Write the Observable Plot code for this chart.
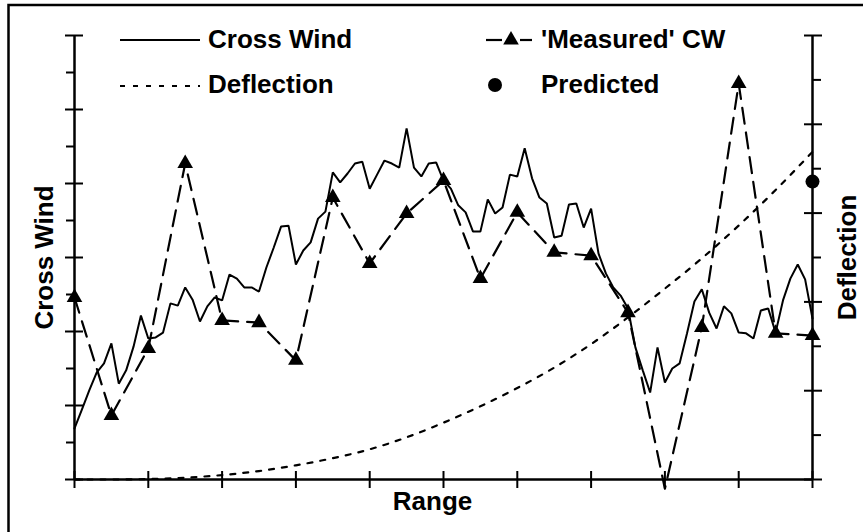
<!DOCTYPE html>
<html>
<head>
<meta charset="utf-8">
<script src="https://cdn.jsdelivr.net/npm/d3@7"></script>
<script src="https://cdn.jsdelivr.net/npm/@observablehq/plot@0.6"></script>
<style>
  body { margin: 0; background: #fff; }
  #chart { width: 863px; height: 532px; overflow: hidden; }
</style>
</head>
<body>
<div id="chart"></div>
<script>
// Cross wind sampled every 0.1 range unit (cross-wind axis units)
const crossWindStep = 0.1;
const crossWind = [
  1.38, 1.89, 2.41, 2.89, 3.14, 3.68, 2.59, 2.95, 3.59, 4.43,
  3.81, 3.84, 3.97, 4.76, 4.70, 5.19, 4.86, 4.27, 4.68, 4.92,
  4.84, 5.54, 5.43, 5.19, 5.19, 5.08, 5.73, 6.27, 6.84, 6.86,
  5.81, 6.19, 6.41, 7.05, 7.24, 8.30, 8.03, 8.27, 8.54, 8.59,
  7.86, 8.24, 8.62, 8.54, 8.43, 9.49, 8.43, 8.19, 8.54, 8.57,
  8.08, 7.86, 7.41, 7.22, 6.70, 6.70, 7.57, 7.19, 7.35, 8.24,
  8.19, 8.95, 8.14, 7.62, 7.46, 6.54, 6.59, 7.43, 7.46, 6.81,
  7.32, 6.11, 5.57, 5.19, 4.97, 4.62, 3.57, 2.95, 2.35, 3.57,
  2.62, 3.00, 3.14, 3.95, 4.81, 5.14, 4.51, 4.08, 4.68, 4.49,
  3.97, 3.95, 3.81, 4.57, 4.62, 3.97, 4.84, 5.43, 5.81, 5.41,
  4.35
];

// 'Measured' cross wind, one reading every 0.5 range unit
const measuredRange = [0, 0.5, 1, 1.5, 2, 2.5, 3, 3.5, 4, 4.5, 5, 5.5, 6, 6.5, 7, 7.5, 8, 8.5, 9, 9.5, 10];
const measuredCW = [4.92, 1.73, 3.54, 8.54, 4.30, 4.24, 3.22, 7.62, 5.84, 7.19, 8.08, 5.43, 7.22, 6.14, 6.05, 4.51, -0.25, 4.11, 10.70, 3.95, 3.89];

// Deflection (right axis units)
const deflectionRange = [0, 0.5, 1, 1.5, 2, 2.5, 3, 3.5, 4, 4.5, 5, 5.5, 6, 6.5, 7, 7.5, 8, 8.5, 9, 9.5, 10];
const deflection = [0, 0, 0.01, 0.04, 0.1, 0.19, 0.32, 0.48, 0.68, 0.95, 1.28, 1.65, 2.06, 2.52, 3.05, 3.65, 4.3, 4.98, 5.72, 6.52, 7.38];

// Predicted deflection at the end of the range
const predictedRange = [10];
const predictedDeflection = [6.71];

// Axis ticks
const rangeTicks = [0, 1, 2, 3, 4, 5, 6, 7, 8, 9, 10];
const crossWindMajor = [0, 2, 4, 6, 8, 10, 12];
const crossWindMinor = [1, 3, 5, 7, 9, 11];
const deflectionMajor = [0, 2, 4, 6, 8, 10];
const deflectionMinor = [1, 3, 5, 7, 9];

const crossWindMax = 12;
const deflectionMax = 10;
// put deflection values onto the shared (cross wind) y scale
const deflToY = d => d * crossWindMax / deflectionMax;

const cwData = crossWind.map((v, i) => ({range: +(i * crossWindStep).toFixed(1), value: v}));
const measData = measuredRange.map((r, i) => ({range: r, value: measuredCW[i]}));
const deflData = deflectionRange.map((r, i) => ({range: r, value: deflection[i]}));
const predData = predictedRange.map((r, i) => ({range: r, value: predictedDeflection[i]}));

const font = '"Liberation Sans", Arial, Helvetica, sans-serif';
const noLabel = () => "";

const plot = Plot.plot({
  width: 863,
  height: 532,
  marginLeft: 74,
  marginRight: 51,
  marginTop: 35,
  marginBottom: 53,
  x: {domain: [0, 10]},
  y: {domain: [0, crossWindMax]},
  style: {fontFamily: font, background: "white", color: "black", overflow: "visible"},
  marks: [
    // deflection curve (dotted)
    Plot.line(deflData, {x: "range", y: d => deflToY(d.value), stroke: "black", strokeWidth: 2.2,
      strokeDasharray: "5,8", curve: "monotone-x"}),
    // cross wind (solid)
    Plot.line(cwData, {x: "range", y: "value", stroke: "black", strokeWidth: 2, strokeLinejoin: "miter"}),
    // measured cross wind (dashed with triangles)
    Plot.line(measData, {x: "range", y: "value", stroke: "black", strokeWidth: 2.2, strokeDasharray: "16,9"}),
    Plot.dot(measData, {x: "range", y: "value", symbol: "triangle", r: 5.8, fill: "black", stroke: "none",
      filter: d => d.value >= 0}),
    // predicted deflection
    Plot.dot(predData, {x: "range", y: d => deflToY(d.value), r: 7, fill: "black", stroke: "none"}),

    // axis lines
    Plot.ruleX([0, 10], {stroke: "black", strokeWidth: 2.5}),
    Plot.ruleY([0], {stroke: "black", strokeWidth: 2.5}),

    // left axis: major ticks cross the line, minor ticks outside
    Plot.axisY(crossWindMajor, {anchor: "left", tickSize: 18, dx: 9, tickFormat: noLabel, label: null, strokeWidth: 2}),
    Plot.axisY(crossWindMinor, {anchor: "left", tickSize: 8, tickFormat: noLabel, label: null, strokeWidth: 2}),
    // right axis (deflection)
    Plot.axisY(deflectionMajor.map(deflToY), {anchor: "right", tickSize: 18, dx: -9, tickFormat: noLabel, label: null, strokeWidth: 2}),
    Plot.axisY(deflectionMinor.map(deflToY), {anchor: "right", tickSize: 8, tickFormat: noLabel, label: null, strokeWidth: 2}),
    // bottom axis
    Plot.axisX(rangeTicks, {anchor: "bottom", tickSize: 17, dy: -8, tickFormat: noLabel, label: null, strokeWidth: 2}),

    // axis titles
    Plot.text(["Cross Wind"], {frameAnchor: "left", dx: -22, rotate: -90, lineAnchor: "bottom",
      textAnchor: "middle", fontSize: 26, fontWeight: "bold", fill: "black"}),
    Plot.text(["Deflection"], {frameAnchor: "right", dx: 43, rotate: -90, lineAnchor: "bottom",
      textAnchor: "middle", fontSize: 26, fontWeight: "bold", fill: "black"}),
    Plot.text(["Range"], {frameAnchor: "bottom", dx: -11, dy: 30, lineAnchor: "bottom",
      textAnchor: "middle", fontSize: 26, fontWeight: "bold", fill: "black"})
  ]
});

// legend and outer frame
const svg = d3.select(plot);
const legend = svg.append("g")
  .attr("font-family", font)
  .attr("font-weight", "bold")
  .attr("font-size", 26)
  .attr("text-anchor", "start")
  .attr("fill", "black");

// Cross Wind
legend.append("line").attr("x1", 120).attr("x2", 200).attr("y1", 40).attr("y2", 40)
  .attr("stroke", "black").attr("stroke-width", 2);
legend.append("text").attr("x", 208).attr("y", 48).text("Cross Wind");

// Deflection
legend.append("line").attr("x1", 120).attr("x2", 200).attr("y1", 86).attr("y2", 86)
  .attr("stroke", "black").attr("stroke-width", 2.2).attr("stroke-dasharray", "5,8");
legend.append("text").attr("x", 208).attr("y", 93).text("Deflection");

// 'Measured' CW
legend.append("line").attr("x1", 486).attr("x2", 502).attr("y1", 40).attr("y2", 40)
  .attr("stroke", "black").attr("stroke-width", 2.2);
legend.append("line").attr("x1", 520).attr("x2", 532).attr("y1", 40).attr("y2", 40)
  .attr("stroke", "black").attr("stroke-width", 2.2);
legend.append("path").attr("transform", "translate(511,40)")
  .attr("d", d3.symbol(d3.symbolTriangle, Math.PI * 5.8 * 5.8)());
legend.append("text").attr("x", 541).attr("y", 48).text("'Measured' CW");

// Predicted
legend.append("circle").attr("cx", 495).attr("cy", 85).attr("r", 7);
legend.append("text").attr("x", 541).attr("y", 93).text("Predicted");

svg.append("path").attr("d", "M8.5,532V5H863")
  .attr("fill", "none").attr("stroke", "black").attr("stroke-width", 2.5);

document.getElementById("chart").appendChild(plot);
</script>
</body>
</html>
